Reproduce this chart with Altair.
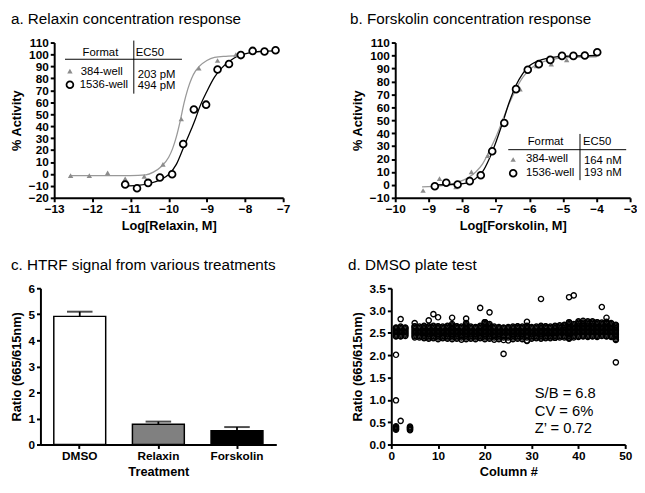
import altair as alt
import pandas as pd

FONT = "Liberation Sans"

# ---------------- Panel a: Relaxin ----------------
a384_x = [-12.57, -12.08, -11.60, -11.14, -10.64, -10.15, -9.67, -9.21, -8.72, -8.24]
a384_y = [-1.4, -1.4, 0.9, -4.0, -2.0, 8.0, 46.0, 88.5, 95.0, 100.0]
a1536_x = [-11.14, -10.83, -10.54, -10.23, -9.91, -9.62, -9.34, -9.02, -8.72, -8.42, -8.11, -7.80, -7.49, -7.20]
a1536_y = [-8.9, -12.0, -7.5, -3.0, -0.2, 25.0, 54.0, 58.0, 87.5, 92.0, 99.5, 103.0, 102.5, 103.5]
a384_cx = [-12.6, -11.0, -10.6, -10.4, -10.2, -10.0, -9.9, -9.8, -9.7, -9.6, -9.5, -9.4, -9.3, -9.2, -9.0, -8.8, -8.5, -8.2]
a384_cy = [-1.5, -1.4, -0.8, 1.5, 6, 14, 21, 31, 44, 59, 71, 80, 86, 90, 95, 97.5, 98.5, 99]
a1536_cx = [-11.15, -10.8, -10.5, -10.2, -10.0, -9.8, -9.6, -9.4, -9.3, -9.2, -9.0, -8.8, -8.6, -8.4, -8.2, -8.0, -7.6, -7.2]
a1536_cy = [-10, -9.5, -8, -4.5, -0.5, 8, 23, 38, 46, 55, 69, 81, 89, 94.5, 98.5, 100.5, 102.5, 103]

# ---------------- Panel b: Forskolin ----------------
b384_x = [-9.17, -8.68, -8.19, -7.73, -7.24, -6.77, -6.28, -5.79, -5.35, -4.89]
b384_y = [-4.3, 4.9, -1.5, 10.0, 22.6, 50.9, 74.0, 92.0, 93.3, 96.6]
b1536_x = [-8.82, -8.48, -8.14, -7.78, -7.45, -7.11, -6.75, -6.40, -6.05, -5.72, -5.38, -5.03, -4.69, -4.35, -3.98]
b1536_y = [-1.0, 1.6, 0.3, 2.9, 7.5, 26.0, 47.8, 74.0, 89.0, 93.3, 96.6, 99.7, 99.7, 100.0, 102.5]
b384_cx = [-9.2, -8.6, -8.2, -7.8, -7.6, -7.4, -7.2, -7.0, -6.8, -6.6, -6.4, -6.2, -6.0, -5.6, -5.2, -4.8, -4.0]
b384_cy = [-1.5, -0.5, 1.5, 6, 10, 16, 26, 37, 50, 63, 74, 83, 89, 95, 97.5, 98.5, 99]
b1536_cx = [-8.85, -8.2, -7.8, -7.6, -7.4, -7.2, -7.0, -6.8, -6.6, -6.4, -6.2, -6.0, -5.6, -5.2, -4.8, -3.98]
b1536_cy = [0, 0.5, 2, 5, 10, 20, 33, 48, 64, 77, 86, 92, 97, 99, 99.5, 100]

# ---------------- Panel c: HTRF bars ----------------
treatments = ["DMSO", "Relaxin", "Forskolin"]
ratio_mean = [4.92, 0.78, 0.53]
ratio_upper = [5.10, 0.88, 0.67]
bar_fill = ["#ffffff", "#808080", "#000000"]

# ---------------- Panel d: DMSO plate test ----------------
band_cols = list(range(5, 49))
band_low = [2.40, 2.40, 2.38, 2.37, 2.38, 2.36, 2.38, 2.37, 2.36, 2.37, 2.35, 2.36, 2.37, 2.36, 2.38,
            2.36, 2.37, 2.35, 2.36, 2.34, 2.33, 2.36, 2.37, 2.36, 2.33, 2.37, 2.38, 2.37, 2.38, 2.38,
            2.39, 2.40, 2.40, 2.38, 2.40, 2.41, 2.42, 2.41, 2.42, 2.41, 2.43, 2.42, 2.41, 2.36]
band_high = [2.65, 2.64, 2.66, 2.65, 2.66, 2.65, 2.64, 2.66, 2.70, 2.65, 2.64, 2.72, 2.64, 2.63, 2.66,
             2.74, 2.70, 2.64, 2.63, 2.62, 2.63, 2.64, 2.65, 2.64, 2.66, 2.63, 2.64, 2.66, 2.65, 2.64,
             2.66, 2.67, 2.68, 2.74, 2.70, 2.76, 2.77, 2.76, 2.76, 2.74, 2.73, 2.75, 2.72, 2.68]
left_cols = [1, 2, 3]
left_low = [2.42, 2.42, 2.43]
left_high = [2.62, 2.64, 2.62]
band_levels = [2.40, 2.43, 2.46, 2.49, 2.52, 2.55, 2.58, 2.61, 2.64, 2.67, 2.70, 2.73]
low_col1 = [0.33, 0.35, 0.37, 0.39, 0.41]
low_col4 = [0.32, 0.34, 0.36, 0.38, 0.40]
out_col = [1, 1, 2, 2, 5, 8, 9, 10, 13, 16, 19, 20, 21, 24, 29, 29, 32, 38, 38, 39, 45, 46, 48, 48]
out_val = [2.01, 0.99, 0.53, 2.81, 2.72, 2.78, 2.92, 2.85, 2.84, 2.82, 3.06, 2.74, 2.96, 2.03, 2.75, 2.32,
           3.26, 3.30, 2.37, 3.34, 3.08, 2.84, 1.84, 2.34]

# ---------- build tables ----------
df_a384 = pd.DataFrame({"x": a384_x, "y": a384_y})
df_a1536 = pd.DataFrame({"x": a1536_x, "y": a1536_y})
df_a384c = pd.DataFrame({"x": a384_cx, "y": a384_cy})
df_a1536c = pd.DataFrame({"x": a1536_cx, "y": a1536_cy})
df_b384 = pd.DataFrame({"x": b384_x, "y": b384_y})
df_b1536 = pd.DataFrame({"x": b1536_x, "y": b1536_y})
df_b384c = pd.DataFrame({"x": b384_cx, "y": b384_cy})
df_b1536c = pd.DataFrame({"x": b1536_cx, "y": b1536_cy})
df_c = pd.DataFrame({"t": treatments, "m": ratio_mean, "u": ratio_upper, "f": bar_fill})

rows = []
for c, lo, hi in list(zip(band_cols, band_low, band_high)) + list(zip(left_cols, left_low, left_high)):
    vals = [lo, hi] + [v for v in band_levels if lo < v < hi]
    rows += [{"col": c, "r": v} for v in vals]
rows += [{"col": 1, "r": v} for v in low_col1]
rows += [{"col": 4, "r": v} for v in low_col4]
rows += [{"col": c, "r": v} for c, v in zip(out_col, out_val)]
df_d = pd.DataFrame(rows)

blank = alt.Data(values=[{}])
GREY = "#8c8c8c"


def ptitle(s, x, y):
    return alt.Chart(blank).mark_text(text=s, align="left", baseline="top", font=FONT,
                                       fontSize=15.5, color="black").encode(
        x=alt.value(x), y=alt.value(y))


def txt(s, x, y, align="left", size=11.5):
    return alt.Chart(blank).mark_text(text=s, align=align, baseline="middle", font=FONT,
                                       fontSize=size, color="black").encode(
        x=alt.value(x), y=alt.value(y))


def hline(x1, x2, y):
    return alt.Chart(blank).mark_rule(color="black", strokeWidth=1).encode(
        x=alt.value(x1), x2=alt.value(x2), y=alt.value(y))


def vline(x, y1, y2):
    return alt.Chart(blank).mark_rule(color="black", strokeWidth=1).encode(
        x=alt.value(x), y=alt.value(y1), y2=alt.value(y2))


def tri(x, y):
    return alt.Chart(blank).mark_point(shape="triangle-up", filled=True, color=GREY, size=30,
                                       opacity=1).encode(x=alt.value(x), y=alt.value(y))


def circ(x, y):
    return alt.Chart(blank).mark_point(shape="circle", filled=False, color="black", size=48,
                                       strokeWidth=1.8, opacity=1).encode(x=alt.value(x), y=alt.value(y))


def spacer():
    return alt.Chart(blank).mark_point(size=1, opacity=0).encode(
        x=alt.value(0), y=alt.value(0)).properties(width=1, height=1)


def dose_panel(d384, d1536, c384, c1536, xdom, ydom, xtitle, w, h, extra):
    xs = alt.Scale(domain=xdom, nice=False, zero=False)
    ys = alt.Scale(domain=ydom, nice=False, zero=False)
    xax = alt.Axis(values=list(range(xdom[0], xdom[1] + 1)), title=xtitle, labelOverlap=False)
    yax = alt.Axis(values=list(range(ydom[0], ydom[1] + 1, 10)), title="% Activity", labelOverlap=False)
    X = alt.X("x:Q", scale=xs, axis=xax)
    Y = alt.Y("y:Q", scale=ys, axis=yax)
    l1 = alt.Chart(c384).mark_line(color="#999999", strokeWidth=1.3, interpolate="monotone").encode(x=X, y=Y)
    l2 = alt.Chart(c1536).mark_line(color="black", strokeWidth=1.3, interpolate="monotone").encode(x=X, y=Y)
    p1 = alt.Chart(d384).mark_point(shape="triangle-up", filled=True, color=GREY, size=30,
                                    opacity=1).encode(x=X, y=Y)
    p2 = alt.Chart(d1536).mark_point(shape="circle", filled=True, fill="white", stroke="black",
                                     size=48, strokeWidth=1.8, opacity=1).encode(x=X, y=Y)
    return alt.layer(l1, l2, p1, p2, *extra).properties(width=w, height=h)


extra_a = [ptitle("a. Relaxin concentration response", -44, -31),
           txt("Format", 47, 11, align="center"), txt("EC50", 83, 11),
           hline(11, 130, 17), vline(81, -2, 52),
           tri(16, 29), circ(16, 43),
           txt("384-well", 27, 30), txt("1536-well", 26, 43),
           txt("203 pM", 85, 33), txt("494 pM", 85, 44)]
extra_b = [ptitle("b. Forskolin concentration response", -46, -31),
           txt("Format", 153, 101, align="center"), txt("EC50", 191, 101),
           hline(115, 235, 109), vline(188, 93, 140),
           tri(120, 119), circ(120, 133),
           txt("384-well", 133, 119), txt("1536-well", 133, 133),
           txt("164 nM", 192, 121), txt("193 nM", 192, 133)]

pa = dose_panel(df_a384, df_a1536, df_a384c, df_a1536c, [-13, -7], [-20, 110], "Log[Relaxin, M]",
                233, 158, extra_a)
pb = dose_panel(df_b384, df_b1536, df_b384c, df_b1536c, [-10, -3], [-10, 110], "Log[Forskolin, M]",
                239, 158, extra_b)

# panel c
cx = alt.X("t:N", sort=treatments, title="Treatment",
           scale=alt.Scale(paddingInner=0.34, paddingOuter=0.17),
           axis=alt.Axis(labelAngle=0))
c_scale = alt.Scale(domain=[0, 6], nice=False)
c_axis = alt.Axis(values=[0, 1, 2, 3, 4, 5, 6], labelOverlap=False)
bars = alt.Chart(df_c).mark_bar(stroke="black", strokeWidth=1.5).encode(
    x=cx, y=alt.Y("m:Q", scale=c_scale, title="Ratio (665/615nm)", axis=c_axis),
    fill=alt.Fill("f:N", scale=None))
err = alt.Chart(df_c).mark_rule(color="black", strokeWidth=1.8).encode(
    x=cx, y=alt.Y("m:Q", scale=c_scale, title="Ratio (665/615nm)", axis=c_axis), y2="u:Q")
cap = alt.Chart(df_c).mark_tick(color="black", thickness=2, size=26).encode(
    x=cx, y=alt.Y("u:Q", scale=c_scale, title="Ratio (665/615nm)", axis=c_axis))
pc = alt.layer(bars, err, cap, ptitle("c. HTRF signal from various treatments", -30, -30.5)).properties(
    width=240, height=159)

# panel d
dx = alt.X("col:Q", scale=alt.Scale(domain=[0, 50], nice=False), title="Column #",
           axis=alt.Axis(values=[0, 10, 20, 30, 40, 50], labelOverlap=False))
dy = alt.Y("r:Q", scale=alt.Scale(domain=[0, 3.5], nice=False), title="Ratio (665/615nm)",
           axis=alt.Axis(values=[0, 0.5, 1, 1.5, 2, 2.5, 3, 3.5], format=".1f", labelOverlap=False))
pts = alt.Chart(df_d).mark_point(shape="circle", filled=False, color="black", size=28,
                                 strokeWidth=1.4, opacity=1).encode(x=dx, y=dy)
ann = [ptitle("d. DMSO plate test", -44, -30.5),
       txt("S/B = 6.8", 146, 107, size=15), txt("CV = 6%", 146, 125, size=15),
       txt("Z\u2019 = 0.72", 146, 142, size=15)]
pd_ = alt.layer(pts, *ann).properties(width=238, height=159)

chart = alt.vconcat(
    alt.hconcat(spacer(), alt.hconcat(pa, pb, spacing=61), spacing=0),
    alt.hconcat(spacer(), alt.hconcat(pc, pd_, spacing=73), spacing=0),
    spacing=26,
).configure_view(stroke=None).configure_axis(
    domainColor="black", domainWidth=2, tickColor="black", tickWidth=2, tickSize=4,
    labelFont=FONT, labelFontWeight="bold", labelFontSize=12, labelColor="black",
    titleFont=FONT, titleFontWeight="bold", titleFontSize=13, titleColor="black",
    grid=False, labelOverlap=False, labelFlush=False, labelPadding=2, titlePadding=5,
).properties(background="white", padding=0)

chart.save("out.html", embed_options={"renderer": "svg", "actions": False})
